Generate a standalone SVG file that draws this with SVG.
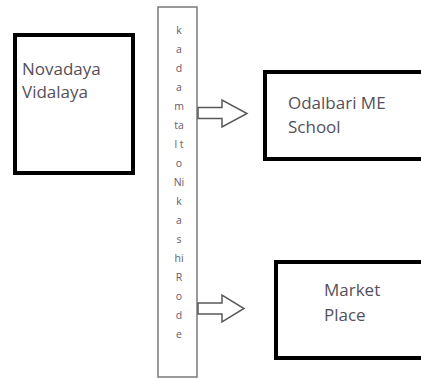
<svg xmlns="http://www.w3.org/2000/svg" width="421" height="378" viewBox="0 0 421 378">
<style>
.box{fill:#fff;stroke:#000;stroke-width:4}
.bar{fill:#fff;stroke:#7a7a7a;stroke-width:1.5}
.lbl{font-family:"Open Sans","Liberation Sans",sans-serif;font-size:17px;fill:#55505a}
.bl{font-family:"Open Sans","Liberation Sans",sans-serif;font-size:10.5px;fill:#665a6e;text-anchor:middle}
.arr{fill:#fff;stroke:#5a5a5a;stroke-width:1.5;stroke-linejoin:miter}
</style>
<rect width="421" height="378" fill="#fff"/>
<g id="novadaya">
<rect class="box" x="15" y="35" width="118" height="138"/>
<text class="lbl" x="22" y="75">Novadaya</text>
<text class="lbl" x="22" y="98">Vidalaya</text>
</g>
<g id="road">
<rect class="bar" x="158" y="7" width="39" height="370"/>
<text class="bl" x="179" y="34">k</text>
<text class="bl" x="179" y="53">a</text>
<text class="bl" x="179" y="72">d</text>
<text class="bl" x="179" y="91">a</text>
<text class="bl" x="179" y="110">m</text>
<text class="bl" x="179" y="129">ta</text>
<text class="bl" x="179" y="148">l t</text>
<text class="bl" x="179" y="167">o</text>
<text class="bl" x="179" y="186">Ni</text>
<text class="bl" x="179" y="205">k</text>
<text class="bl" x="179" y="224">a</text>
<text class="bl" x="179" y="243">s</text>
<text class="bl" x="179" y="262">hi</text>
<text class="bl" x="179" y="281">R</text>
<text class="bl" x="179" y="300">o</text>
<text class="bl" x="179" y="319">d</text>
<text class="bl" x="179" y="338">e</text>
</g>
<g id="odalbari">
<rect class="box" x="265" y="72" width="170" height="87"/>
<text class="lbl" x="288" y="109">Odalbari ME</text>
<text class="lbl" x="288" y="133">School</text>
</g>
<g id="market">
<rect class="box" x="276" y="262" width="160" height="96"/>
<text class="lbl" x="324" y="296">Market</text>
<text class="lbl" x="324" y="321">Place</text>
</g>
<g id="connectors">
<polygon class="arr" points="198,107.5 222,107.5 222,100 247,113.5 222,127 222,118.5 198,118.5"/>
<polygon class="arr" points="198,303 222,303 222,295 244,308.5 222,322 222,314 198,314"/>
</g>
</svg>
